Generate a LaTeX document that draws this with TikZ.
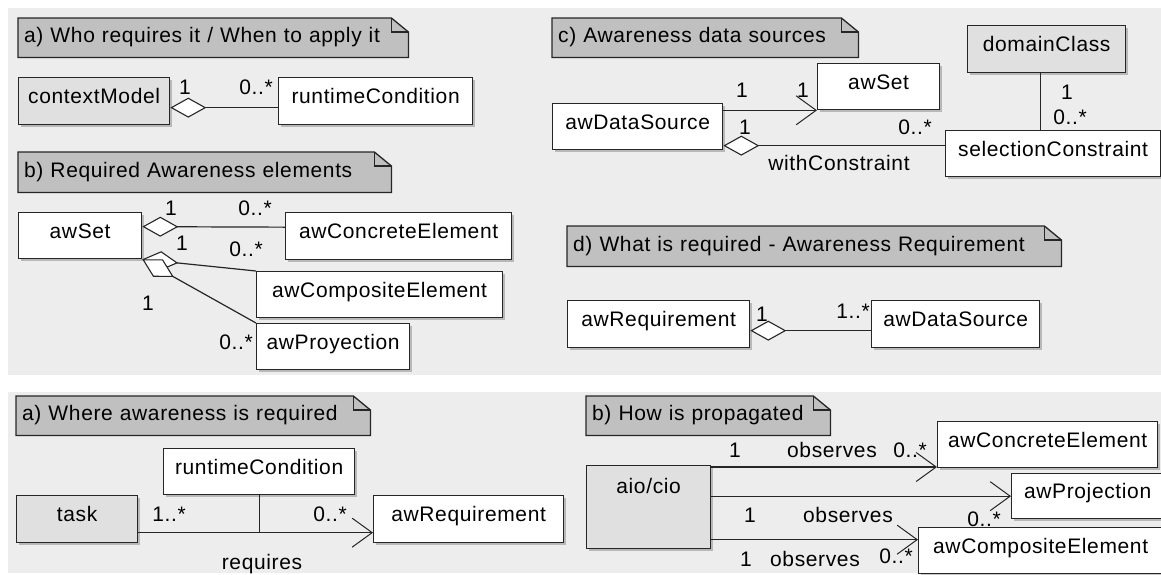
\documentclass[tikz,border=0pt]{standalone}
\usepackage{fontspec}
\setmainfont{Liberation Sans}[LetterSpace=3.0]
\usepackage{xcolor}
\definecolor{umlpanel}{RGB}{237,237,237}
\definecolor{umlnote}{RGB}{192,192,192}
\definecolor{umlgray}{RGB}{224,224,224}
\definecolor{umlline}{RGB}{38,38,38}
\usetikzlibrary{arrows.meta,positioning,shadows,calc}
\newcommand{\umlfont}{\fontsize{21}{25}\selectfont}

\begin{document}
\begin{tikzpicture}[x=1pt, y=-1pt,
    cls/.style={rectangle, anchor=north west, draw=umlline, line width=1.3pt, fill=white,
      font=\umlfont, text height=15pt, text depth=10pt, inner sep=0pt,
      drop shadow={shadow xshift=2.5pt, shadow yshift=-2.5pt, fill=black, opacity=.22}},
    gcls/.style={cls, fill=umlgray},
    notebox/.style={rectangle, anchor=north west, inner xsep=6pt, inner ysep=0pt,
      minimum height=39pt, align=left, font=\umlfont, text height=15pt, text depth=5pt,
      append after command={\pgfextra{
        \fill[black, opacity=.22, shift={(2.5pt,-2.5pt)}]
          (\tikzlastnode.north west) -- ([xshift=-17pt]\tikzlastnode.north east)
          -- ([yshift=-14pt]\tikzlastnode.north east) -- (\tikzlastnode.south east)
          -- (\tikzlastnode.south west) -- cycle;
        \filldraw[fill=umlnote, draw=umlline, line width=1.3pt]
          (\tikzlastnode.north west) -- ([xshift=-17pt]\tikzlastnode.north east)
          -- ([yshift=-14pt]\tikzlastnode.north east) -- (\tikzlastnode.south east)
          -- (\tikzlastnode.south west) -- cycle;
        \draw[umlline, line width=1.3pt]
          ([xshift=-17pt]\tikzlastnode.north east) |- ([yshift=-14pt]\tikzlastnode.north east);
      }}},
    lbl/.style={font=\umlfont, inner sep=0pt, text height=14pt, text depth=0pt},
    conn/.style={draw=umlline, line width=1.2pt},
    agg/.style={conn, {Diamond[length=36pt, width=20pt, fill=white, line width=1.1pt]}-},
    asc/.style={conn, -{Straight Barb[length=20pt, width=29pt, line width=1pt]}}
  ]
    \useasboundingbox (0,0) rectangle (1161,574);
    \fill[umlpanel] (8,8) rectangle (1161,375);
    \fill[umlpanel] (8,392) rectangle (1161,573);

    % a) who requires it
    \node[notebox, text width=378pt] (noteA) at (18,18) {a) Who requires it / When to apply it};
    \node[gcls, minimum width=151pt, minimum height=47pt] (ctxA) at (18,77) {contextModel};
    \node[cls, minimum width=194pt, minimum height=47pt] (rtcA) at (278,77) {runtimeCondition};

    % b) required awareness elements
    \node[notebox, text width=361pt, minimum height=40pt] (noteB) at (18,152) {b) Required Awareness elements};
    \node[cls, minimum width=123pt, minimum height=46pt] (setB) at (18,212) {awSet};
    \node[cls, minimum width=226pt, minimum height=47pt] (concB) at (285,212) {awConcreteElement};
    \node[cls, minimum width=246pt, minimum height=46pt] (compB) at (256,271) {awCompositeElement};
    \node[cls, minimum width=153pt, minimum height=46pt] (proyB) at (256,323) {awProyection};

    % c) awareness data sources
    \node[notebox, text width=294pt] (noteC) at (552,18) {c) Awareness data sources};
    \node[gcls, minimum width=158pt, minimum height=47pt] (domC) at (967,25) {domainClass};
    \node[cls, minimum width=122pt, minimum height=46pt] (setC) at (817,63) {awSet};
    \node[cls, minimum width=170pt, minimum height=46pt] (dsC) at (552,103) {awDataSource};
    \node[cls, minimum width=215pt, minimum height=46pt] (selC) at (945,130) {selectionConstraint};

    % d) awareness requirement
    \node[notebox, text width=482pt, minimum height=40pt] (noteD) at (567,226) {d) What is required - Awareness Requirement};
    \node[cls, minimum width=182pt, minimum height=47pt] (reqD) at (567,300) {awRequirement};
    \node[cls, minimum width=168pt, minimum height=47pt] (dsD) at (871,300) {awDataSource};

    % bottom a) where awareness is required
    \node[notebox, text width=342pt] (noteE) at (16,396) {a) Where awareness is required};
    \node[cls, minimum width=191pt, minimum height=46pt] (rtcE) at (163,448) {runtimeCondition};
    \node[gcls, minimum width=121pt, minimum height=47pt] (taskE) at (16,495) {task};
    \node[cls, minimum width=190pt, minimum height=47pt] (reqE) at (373,495) {awRequirement};

    % bottom b) how is propagated
    \node[notebox, text width=232pt] (noteF) at (586,396) {b) How is propagated};
    \node[gcls, minimum width=124pt, minimum height=83pt, text depth=42pt] (aioF) at (586,465) {aio/cio};
    \node[cls, minimum width=220pt, minimum height=46pt] (concF) at (937,421) {awConcreteElement};
    \node[cls, minimum width=152pt, minimum height=45pt] (projF) at (1011,473) {awProjection};
    \node[cls, minimum width=244pt, minimum height=46pt] (compF) at (918,527) {awCompositeElement};

    % connectors
    \draw[agg] ([yshift=-6.5pt]ctxA.east) -- ([yshift=-6.5pt]rtcA.west);
    \draw[agg] ([yshift=9pt]setB.east) -- ([yshift=9pt]concB.west);
    \draw[agg] (setB.south east) -- (compB.north west);
    \draw[agg] (setB.south east) -- (proyB.north west);
    \draw[asc] (dsC.east |- setC.south west) -- (setC.south west);
    \draw[agg] ([yshift=-19pt]dsC.east) coordinate (wcC) -- (selC.west |- wcC);
    \draw[conn] ([xshift=-6pt]domC.south) -- ([xshift=-6pt]domC.south |- selC.north);
    \draw[agg] ([yshift=-6.5pt]reqD.east) -- ([yshift=-6.5pt]dsD.west);
    \draw[asc] ([yshift=-13.5pt]taskE.east) coordinate (rqE) -- (reqE.west |- rqE);
    \draw[conn] (rtcE.south) -- (rtcE.south |- rqE);
    \draw[asc] ([yshift=-2pt]aioF.north east) coordinate (o1F) -- (concF.west |- o1F);
    \draw[asc] (aioF.east |- projF.west) -- (projF.west);
    \coordinate (o3F) at ([yshift=11pt]compF.west);
    \draw[asc] (aioF.east |- o3F) -- (o3F);

    % multiplicities and role names
    \node[lbl] (mA1) at (185,87) {1};
    \node[lbl] (mA2) at (256,87) {0..*};
    \node[lbl] (mB1) at (171,208) {1};
    \node[lbl] (mB2) at (255,208) {0..*};
    \node[lbl] (mB3) at (182,243) {1};
    \node[lbl] (mB4) at (246,249) {0..*};
    \node[lbl] (mB5) at (148,303) {1};
    \node[lbl] (mB6) at (236,342) {0..*};
    \node[lbl] (mC1) at (742,90) {1};
    \node[lbl] (mC2) at (803,90) {1};
    \node[lbl] (mC3) at (745,127) {1};
    \node[lbl] (mC4) at (915,127) {0..*};
    \node[lbl] (wcLbl) at (839,163) {withConstraint};
    \node[lbl] (mC5) at (1067,92) {1};
    \node[lbl] (mC6) at (1070,117) {0..*};
    \node[lbl] (mD1) at (762,314) {1};
    \node[lbl] (mD2) at (853,311) {1..*};
    \node[lbl] (mE1) at (169,514) {1..*};
    \node[lbl] (mE2) at (330,514) {0..*};
    \node[lbl] (rqLbl) at (262,562) {requires};
    \node[lbl] (mF1) at (735,450) {1};
    \node[lbl] (obF1) at (832,450) {observes};
    \node[lbl] (mF2) at (910,450) {0..*};
    \node[lbl] (mF3) at (750,515) {1};
    \node[lbl] (obF2) at (848,515) {observes};
    \node[lbl] (mF4) at (984,519) {0..*};
    \node[lbl] (mF5) at (746,559) {1};
    \node[lbl] (obF3) at (815,559) {observes};
    \node[lbl] (mF6) at (896,556) {0..*};
\end{tikzpicture}
\end{document}
